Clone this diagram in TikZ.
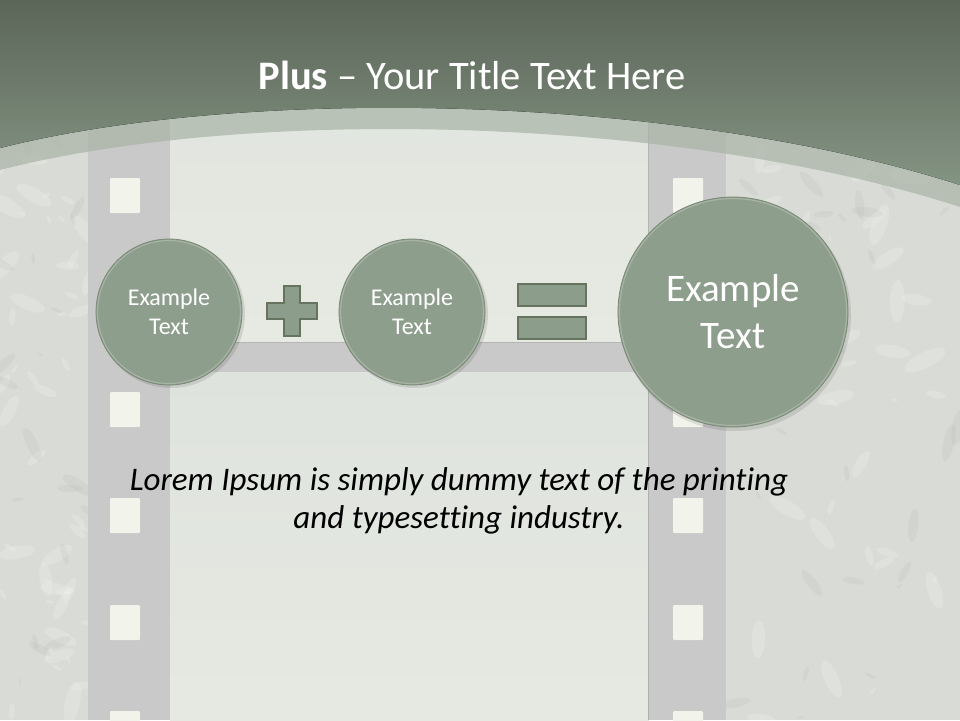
\documentclass[tikz,border=0pt]{standalone}
\usepackage{fontspec}
\setmainfont{Carlito}[Ligatures=NoCommon]
\definecolor{bg}{HTML}{D9DCD6}
\definecolor{strip}{HTML}{C8C9C8}
\definecolor{hole}{HTML}{F2F4EC}
\definecolor{frtop}{HTML}{DFE3DE}
\definecolor{frbot}{HTML}{E7EAE2}
\definecolor{hdtop}{HTML}{5B6658}
\definecolor{hdbot}{HTML}{849483}
\definecolor{band}{HTML}{A9B4A7}
\definecolor{circ}{HTML}{8E9E8C}
\definecolor{circedge}{HTML}{7A8975}
\definecolor{symfill}{HTML}{8D9D8B}
\definecolor{symedge}{HTML}{65735F}
\tikzset{
  holebox/.style={fill=hole, rounded corners=1pt},
  framebox/.style={top color=frtop, bottom color=frbot, rounded corners=16pt},
  bubble/.style={circle, fill=circ, draw=circedge, line width=0.8pt, text=white, align=center, inner sep=0pt},
  symbox/.style={fill=symfill, draw=symedge, line width=2.2pt},
}
\begin{document}
\begin{tikzpicture}[x=1pt,y=-1pt]
\useasboundingbox (0,0) rectangle (960,720);
% background
\fill[bg] (0,0) rectangle (960,720);
\pgfmathsetseed{7}
\foreach \i in {1,...,90}{
  \pgfmathsetmacro{\px}{rnd<0.5 ? rnd*90 : 725+rnd*235}
  \pgfmathsetmacro{\py}{130+rnd*590}
  \pgfmathsetmacro{\rr}{3+rnd*20}
  \pgfmathsetmacro{\rot}{rnd*180}
  \fill[white, opacity=0.16, rotate around={\rot:(\px,\py)}] (\px,\py) ellipse ({\rr} and {\rr*0.35});
}
\foreach \i in {1,...,50}{
  \pgfmathsetmacro{\px}{rnd<0.5 ? rnd*90 : 725+rnd*235}
  \pgfmathsetmacro{\py}{130+rnd*590}
  \pgfmathsetmacro{\rr}{3+rnd*16}
  \pgfmathsetmacro{\rot}{rnd*180}
  \fill[black!50, opacity=0.07, rotate around={\rot:(\px,\py)}] (\px,\py) ellipse ({\rr} and {\rr*0.3});
}
% film strip
\fill[strip] (88,0) rectangle (726,720);
\fill[framebox] (170,-20) rectangle (648,342);
\fill[framebox] (170,372) rectangle (648,760);
\foreach \y in {178,285,392,498,605,711}{
  \fill[holebox] (110,\y) rectangle (140,\y+35);
  \fill[holebox] (673,\y) rectangle (703,\y+35);
}
% header band and header
\fill[band, opacity=0.7] (0,0) -- (960,0) -- (960,207) .. controls (680,116) and (250,106) .. (0,170) -- cycle;
\fill[top color=hdtop, bottom color=hdbot] (0,0) -- (960,0) -- (960,185) .. controls (680,95) and (250,85) .. (0,148) -- cycle;
\node[text=white, font=\fontsize{40.5}{44}\selectfont] (title) at (472,75) {\textbf{Plus} – Your Title Text Here};
% circles (shadows)
\fill[black, opacity=0.10] (171,314) circle (74);
\fill[black, opacity=0.10] (414,314) circle (74);
\fill[black, opacity=0.10] (735,315) circle (116);
\node[bubble, minimum size=146pt, font=\fontsize{24}{29}\selectfont] (c1) at (169,312) {Example\\Text};
\node[bubble, minimum size=146pt, font=\fontsize{24}{29}\selectfont] (c2) at (412,312) {Example\\Text};
\node[bubble, minimum size=230pt, font=\fontsize{39}{47}\selectfont] (c3) at (733,312) {Example\\Text};
\foreach \c/\r in {c1/71.5,c2/71.5,c3/113.5}{
  \draw[white, opacity=0.22, line width=1.2pt] (\c.center) circle (\r);
}
% plus sign
\coordinate (pc) at (292,311);
\draw[symbox] ([shift={(-8,-25)}]pc) -- ([shift={(8,-25)}]pc) -- ([shift={(8,-8)}]pc) -- ([shift={(25,-8)}]pc) -- ([shift={(25,8)}]pc) -- ([shift={(8,8)}]pc) -- ([shift={(8,25)}]pc) -- ([shift={(-8,25)}]pc) -- ([shift={(-8,8)}]pc) -- ([shift={(-25,8)}]pc) -- ([shift={(-25,-8)}]pc) -- ([shift={(-8,-8)}]pc) -- cycle;
% equals sign
\draw[symbox] (518,284) rectangle (586,306);
\draw[symbox] (518,317) rectangle (586,339);
% body text
\node[font=\fontsize{33}{38}\selectfont\itshape, align=center, text=black] (lorem) at (459,501) {Lorem Ipsum is simply dummy text of the printing\\and typesetting industry.};
\end{tikzpicture}
\end{document}
